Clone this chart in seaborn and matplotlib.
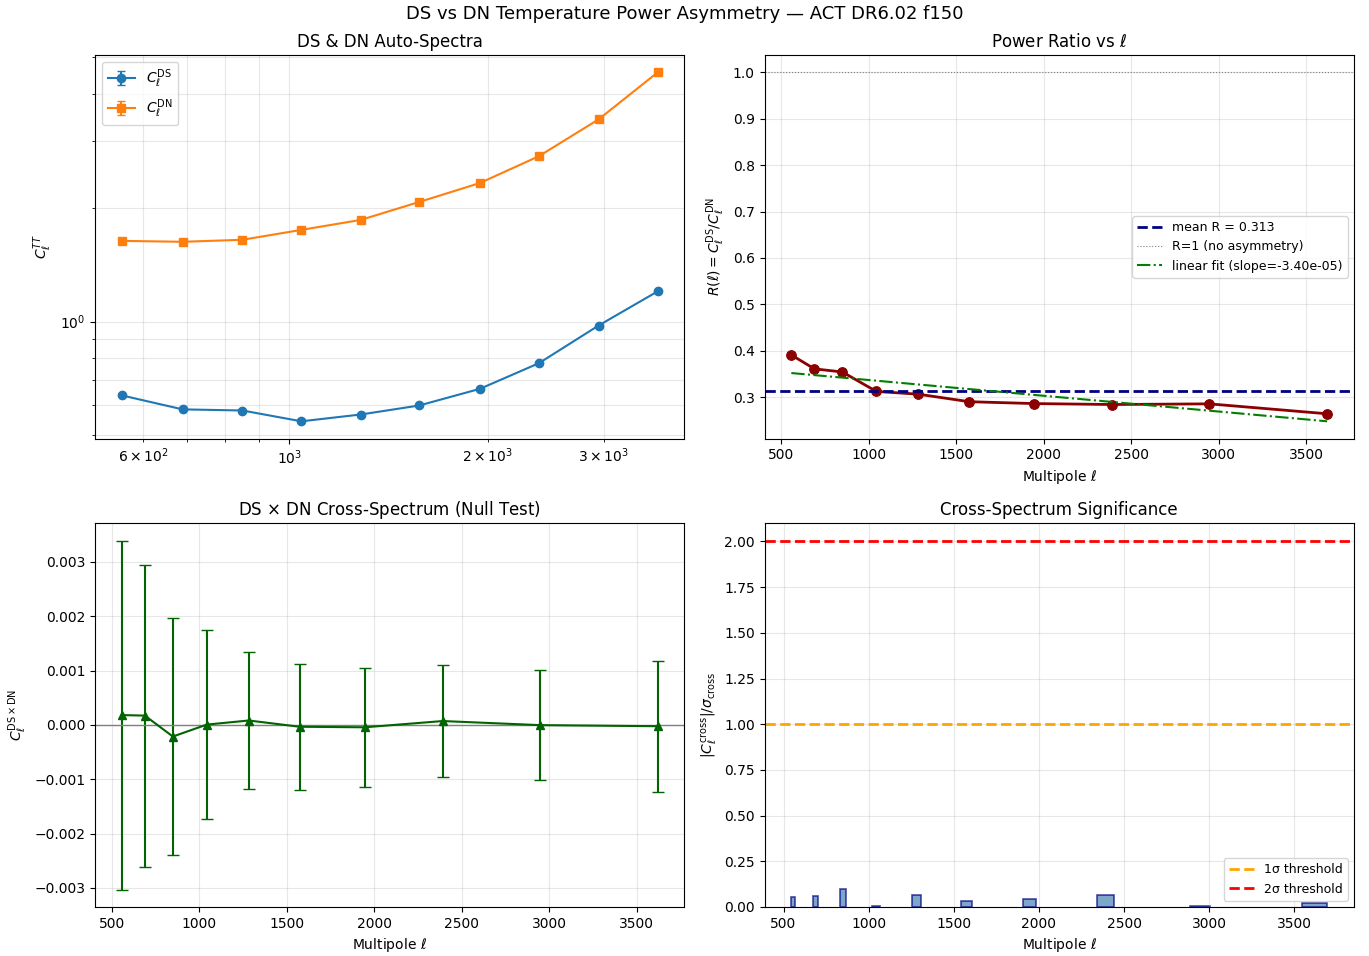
import numpy as np
import pandas as pd
import matplotlib
matplotlib.use('Agg')
import matplotlib.pyplot as plt
import seaborn as sns

# ---- DATA ----
ell = [557, 689, 849, 1043, 1283, 1574, 1946, 2391, 2946, 3620]
cl_ds = [0.638, 0.586, 0.582, 0.545, 0.568, 0.600, 0.664, 0.776, 0.976, 1.201]
cl_dn = [1.633, 1.624, 1.644, 1.746, 1.855, 2.069, 2.322, 2.733, 3.420, 4.550]
cl_cross = [0.18e-3, 0.17e-3, -0.215e-3, 0.005e-3, 0.08e-3,
            -0.035e-3, -0.045e-3, 0.07e-3, -0.005e-3, -0.025e-3]
cl_cross_err = [3.21e-3, 2.78e-3, 2.18e-3, 1.74e-3, 1.265e-3,
                1.155e-3, 1.10e-3, 1.035e-3, 1.01e-3, 1.205e-3]

df = pd.DataFrame({'ell': ell, 'ds': cl_ds, 'dn': cl_dn,
                   'cross': cl_cross, 'err': cl_cross_err})
df['ratio'] = df['ds'] / df['dn']
df['signif'] = np.abs(df['cross']) / df['err']
mean_r = df['ratio'].mean()
slope, icpt = np.polyfit(df['ell'], df['ratio'], 1)
df['fit'] = slope * df['ell'] + icpt

plt.rcParams['font.family'] = ['DejaVu Sans']

fig, axes = plt.subplots(2, 2, figsize=(13.69, 9.56), dpi=100)
fig.subplots_adjust(left=0.0694, right=0.989, top=0.9425, bottom=0.0513,
                    wspace=0.136, hspace=0.22)
fig.suptitle('DS vs DN Temperature Power Asymmetry — ACT DR6.02 f150', fontsize=13, y=0.995)

# ---- auto spectra ----
ax = axes[0, 0]
ax.errorbar(df['ell'], df['ds'], yerr=0, fmt='o-', color='#1f77b4', capsize=3,
            label=r'$C_\ell^{\rm DS}$')
ax.errorbar(df['ell'], df['dn'], yerr=0, fmt='s-', color='#ff7f0e', capsize=3,
            label=r'$C_\ell^{\rm DN}$')
ax.set_xscale('log')
ax.set_yscale('log')
ax.set_ylabel(r'$C_\ell^{TT}$')
ax.set_title('DS & DN Auto-Spectra')
ax.legend(loc='upper left')
ax.grid(True, which='both', alpha=0.3)

# ---- ratio ----
ax = axes[0, 1]
sns.lineplot(data=df, x='ell', y='ratio', color='darkred', marker='o', lw=2,
             markersize=7, markeredgecolor='darkred', ax=ax)
ax.axhline(mean_r, color='navy', ls='--', lw=2, label=f'mean R = {mean_r:.3f}')
ax.axhline(1.0, color='gray', ls=':', lw=0.8, label='R=1 (no asymmetry)')
sns.lineplot(data=df, x='ell', y='fit', color='green', ls='-.', lw=1.5,
             label=f'linear fit (slope={slope:.2e})', ax=ax)
ax.set_xlabel(r'Multipole $\ell$')
ax.set_ylabel(r'$R(\ell) = C_\ell^{\rm DS}/C_\ell^{\rm DN}$')
ax.set_title(r'Power Ratio vs $\ell$')
ax.legend(loc='center right', fontsize=9)
ax.grid(True, alpha=0.3)

# ---- cross spectrum ----
ax = axes[1, 0]
ax.errorbar(df['ell'], df['cross'], yerr=df['err'], fmt='^-', color='darkgreen',
            capsize=4, lw=1.5, markersize=6)
ax.axhline(0, color='gray', lw=1)
ax.set_xlabel(r'Multipole $\ell$')
ax.set_ylabel(r'$C_\ell^{\rm DS\times DN}$')
ax.set_title(r'DS $\times$ DN Cross-Spectrum (Null Test)')
ax.grid(True, alpha=0.3)

# ---- significance ----
ax = axes[1, 1]
ax.bar(df['ell'], df['signif'], width=df['ell'] * 0.04, color='steelblue',
       alpha=0.7, edgecolor='navy', lw=1.2)
ax.axhline(1, color='orange', ls='--', lw=2, label='1σ threshold')
ax.axhline(2, color='red', ls='--', lw=2, label='2σ threshold')
ax.set_ylim(0, 2.1)
ax.set_xlabel(r'Multipole $\ell$')
ax.set_ylabel(r'$|C_\ell^{\rm cross}|/\sigma_{\rm cross}$')
ax.set_title('Cross-Spectrum Significance')
ax.legend(loc='lower right', fontsize=9)
ax.grid(True, alpha=0.3)

plt.savefig('out.png')
plt.close()
